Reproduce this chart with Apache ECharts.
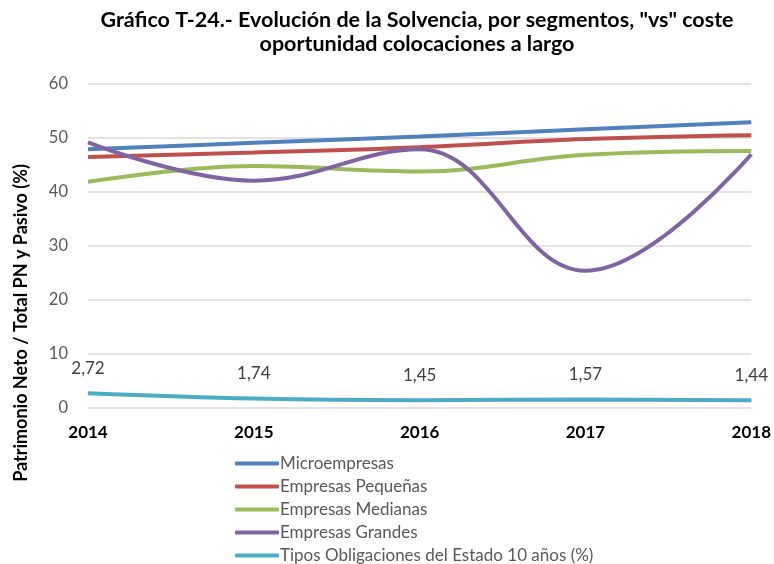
<!DOCTYPE html>
<html>
<head>
<meta charset="utf-8">
<script src="https://cdn.jsdelivr.net/npm/echarts@6/dist/echarts.min.js"></script>
<style>
  html, body { margin: 0; padding: 0; background: #fff; }
  #chart { width: 774px; height: 564px; }
</style>
</head>
<body>
<div id="chart"></div>
<script>
// años del eje X
const years = ['2014', '2015', '2016', '2017', '2018'];
// ratios PN / (PN + pasivo) por segmento
const micro = [47.9, 49.1, 50.3, 51.6, 52.9];
const pequenas = [46.5, 47.3, 48.3, 49.8, 50.5];
const medianas = [41.9, 44.8, 43.8, 46.9, 47.6];
const grandes = [49.2, 42.1, 47.9, 25.4, 47.0];
// tipo bono 10 años
const tipos = [2.72, 1.74, 1.45, 1.57, 1.44];

const seriesNames = [
  'Microempresas',
  'Empresas Pequeñas',
  'Empresas Medianas',
  'Empresas Grandes',
  'Tipos Obligaciones del Estado 10 años (%)'
];
const colors = ['#4F81BD', '#C0504D', '#9BBB59', '#8064A2', '#4BACC6'];
const font = 'Lato, "Open Sans", sans-serif';

function lineSerie(name, data, color) {
  return {
    name: name,
    type: 'line',
    data: data,
    smooth: 0.4,
    symbol: 'none',
    lineStyle: { width: 4, color: color },
    itemStyle: { color: color }
  };
}

const chart = echarts.init(document.getElementById('chart'));

const option = {
  animation: false,
  textStyle: { fontFamily: font },
  title: {
    text: 'Gráfico T-24.- Evolución de la Solvencia, por segmentos, "vs" coste\noportunidad colocaciones a largo',
    left: 412,
    top: 3,
    textAlign: 'center',
    textStyle: { fontSize: 21.5, fontWeight: 'bold', color: '#000', lineHeight: 24, fontFamily: font }
  },
  graphic: [{
    type: 'text',
    x: 21,
    y: 323,
    rotation: Math.PI / 2,
    style: {
      text: 'Patrimonio Neto / Total PN y Pasivo (%)',
      font: 'bold 18px ' + font,
      fill: '#000',
      textAlign: 'center',
      textVerticalAlign: 'middle'
    }
  }],
  legend: {
    orient: 'vertical',
    left: 230,
    top: 450,
    height: 130,
    itemWidth: 44,
    itemHeight: 4,
    itemGap: 6,
    icon: 'roundRect',
    data: seriesNames,
    textStyle: { fontSize: 17, color: '#595959', padding: [0, 0, 0, -4], fontFamily: font }
  },
  grid: { left: 88, right: 20, top: 84, bottom: 156, containLabel: false },
  xAxis: {
    type: 'category',
    data: years,
    boundaryGap: false,
    axisLine: { show: false },
    axisTick: { show: false },
    axisLabel: { fontSize: 17, fontWeight: 'bold', color: '#000', margin: 16, fontFamily: font }
  },
  yAxis: {
    type: 'value',
    min: 0,
    max: 60,
    interval: 10,
    axisLine: { show: false },
    axisTick: { show: false },
    axisLabel: { fontSize: 16.5, color: '#595959', margin: 20, fontFamily: font },
    splitLine: { lineStyle: { color: '#d9d9d9', width: 1.5 } }
  },
  series: [
    lineSerie(seriesNames[0], micro, colors[0]),
    lineSerie(seriesNames[1], pequenas, colors[1]),
    lineSerie(seriesNames[2], medianas, colors[2]),
    lineSerie(seriesNames[3], grandes, colors[3]),
    Object.assign(lineSerie(seriesNames[4], tipos, colors[4]), {
      symbol: 'circle',
      symbolSize: 1,
      showSymbol: true,
      label: {
        show: true,
        position: 'top',
        offset: [0, -11],
        fontSize: 17,
        color: '#404040',
        fontFamily: font,
        formatter: function (p) { return p.value.toFixed(2).replace('.', ','); }
      }
    })
  ]
};

chart.setOption(option);
window.addEventListener('resize', function () { chart.resize(); });
</script>
</body>
</html>
